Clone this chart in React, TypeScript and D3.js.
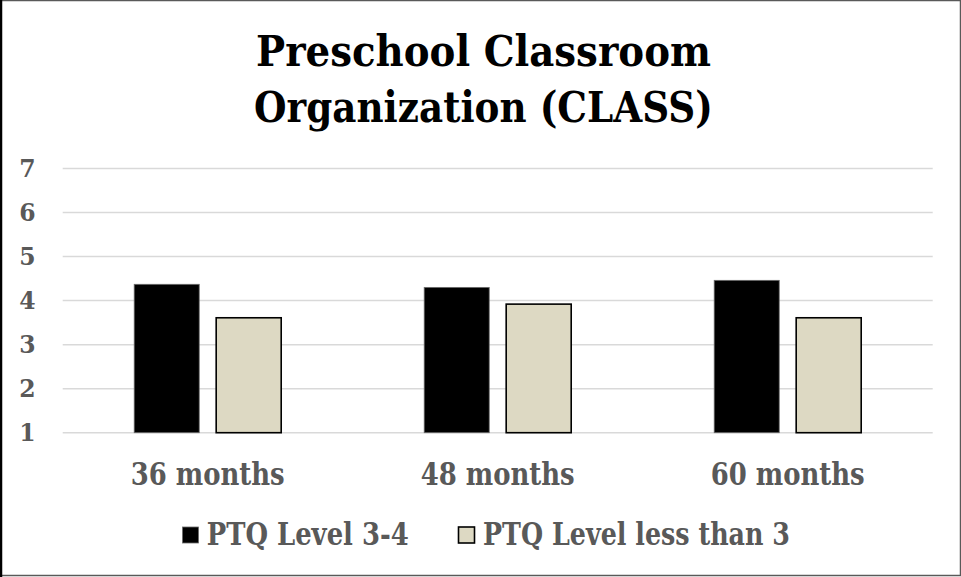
import React from "react";
import * as d3 from "d3";

const categories = ["36 months", "48 months", "60 months"];
const seriesNames = ["PTQ Level 3-4", "PTQ Level less than 3"];
const level34 = [4.37, 4.3, 4.46];
const levelLess3 = [3.61, 3.92, 3.61];
const yTicks = [1, 2, 3, 4, 5, 6, 7];
const titleLines = ["Preschool Classroom", "Organization (CLASS)"];

const W = 961;
const H = 577;
const FONT = "'DejaVu Serif', 'Liberation Serif', serif";
const GRAY = "#595959";
const colors = ["#000000", "#DDD9C3"];
const strokes = ["#6b6b6b", "#000000"];

export default function App() {
  const x0 = d3.scaleBand<string>().domain(categories).range([62.7, 932.7]).padding(0);
  const x1 = d3
    .scaleBand<string>()
    .domain(seriesNames)
    .range([0, x0.bandwidth()])
    .paddingInner(0.207)
    .paddingOuter(0.872);
  const y = d3.scaleLinear().domain([1, 7]).range([432.7, 168.5]);
  const series = [level34, levelLess3];

  const legendItems = [
    { marker: 182.5, text: 206.7, len: 202 },
    { marker: 458.5, text: 483, len: 307 },
  ];

  return (
    <svg
      width={W}
      height={H}
      style={{ position: "fixed", left: 0, top: 0, background: "#fff" }}
    >
      <rect x={0.5} y={0.5} width={W - 1} height={H - 2} fill="#fff" stroke={GRAY} strokeWidth={1.5} />
      <line x1={1} y1={0} x2={1} y2={H} stroke="#000" strokeWidth={2.5} />

      {titleLines.map((t, i) => (
        <text
          key={t}
          x={483.5}
          y={66 + i * 56}
          textAnchor="middle"
          fontFamily={FONT}
          fontWeight="bold"
          fontSize={42.5}
          fill="#000"
          textLength={i === 0 ? 455 : 459}
          lengthAdjust="spacingAndGlyphs"
        >
          {t}
        </text>
      ))}

      {yTicks.map((t) => (
        <g key={t}>
          <line x1={62.7} x2={932.7} y1={y(t)} y2={y(t)} stroke="#d9d9d9" strokeWidth={1.5} />
          <text
            x={35.5}
            y={y(t) + 8.6}
            textAnchor="end"
            fontFamily={FONT}
            fontWeight="bold"
            fontSize={23.5}
            fill={GRAY}
          >
            {t}
          </text>
        </g>
      ))}

      {categories.map((c, ci) => (
        <g key={c} transform={`translate(${x0(c)},0)`}>
          {seriesNames.map((s, si) => {
            const v = series[si][ci];
            return (
              <rect
                key={s}
                x={x1(s)!}
                y={y(v)}
                width={x1.bandwidth()}
                height={y(1) - y(v)}
                fill={colors[si]}
                stroke={strokes[si]}
                strokeWidth={si === 1 ? 1.6 : 0.8}
              />
            );
          })}
          <text
            x={x0.bandwidth() / 2}
            y={484.5}
            textAnchor="middle"
            fontFamily={FONT}
            fontWeight="bold"
            fontSize={31}
            fill={GRAY}
            textLength={154}
            lengthAdjust="spacingAndGlyphs"
          >
            {c}
          </text>
        </g>
      ))}

      {seriesNames.map((s, si) => (
        <g key={s}>
          <rect
            x={legendItems[si].marker}
            y={527}
            width={16}
            height={16}
            fill={colors[si]}
            stroke={strokes[si]}
            strokeWidth={si === 1 ? 1.6 : 0.8}
          />
          <text
            x={legendItems[si].text}
            y={545}
            fontFamily={FONT}
            fontWeight="bold"
            fontSize={31}
            fill={GRAY}
            textLength={legendItems[si].len}
            lengthAdjust="spacingAndGlyphs"
          >
            {s}
          </text>
        </g>
      ))}
    </svg>
  );
}
